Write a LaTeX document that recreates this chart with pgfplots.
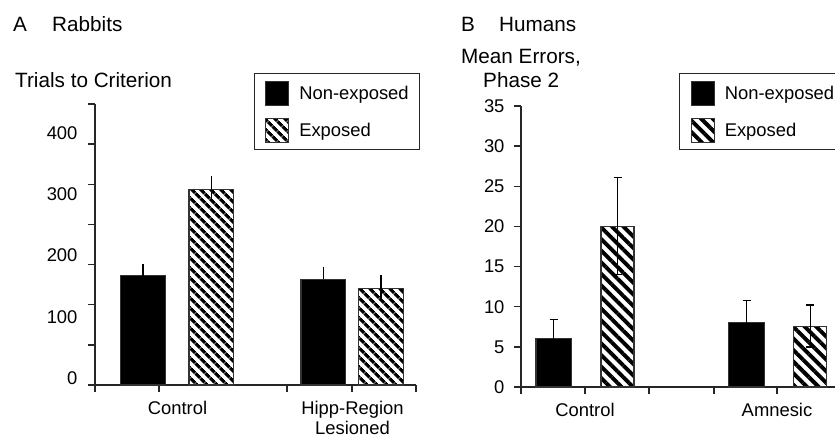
\documentclass[border=0pt]{standalone}
\usepackage{pgfplots}
\pgfplotsset{compat=1.18}
\usepackage{pgfplotstable}
\usepackage{fontspec}
\setmainfont{Liberation Sans}
\usetikzlibrary{patterns.meta}

\newcommand\tl{\fontsize{18.4}{20}\selectfont}
\newcommand\ttl{\fontsize{20.7}{24}\selectfont}

% Panel A: rabbits (x in px from y axis)
\pgfplotstableread{
x y ep em
48 178.4 19.6 0
228.3 172.5 20.7 0
}\rabNE
\pgfplotstableread{
x y ep em
116.3 319.5 21.7 14.7
286 157.3 21.8 14.7
}\rabE
% Panel B: humans
\pgfplotstableread{
x y ep em
32.7 6.0 2.4 2.4
225.5 8.0 2.8 2.8
}\humNE
\pgfplotstableread{
x y ep em
96.5 20.0 6.1 6.0
289.3 7.5 2.7 2.5
}\humE

\pgfplotsset{
  common/.style={
    scale only axis,
    axis lines=left,
    axis line style={-, line width=1.3pt, black!85},
    tick style={line width=1.3pt, black!85},
    tick align=outside,
    major tick length=7pt,
    clip=false,
    tick label style={font=\tl},
    /pgf/number format/assume math mode=true,
    legend style={draw=black!85, line width=1.2pt, fill=white,
      anchor=north west, inner xsep=11pt, inner ysep=7pt,
      row sep=12pt, font=\tl,
      nodes={inner sep=0pt}},
    legend cell align=left,
  },
  legimg/.style={legend image code/.code={
      \draw[##1, line width=1.1pt] (0pt,-12pt) rectangle (23pt,12pt);
      \path (33pt,0pt);}},
}

\begin{document}
\begin{tikzpicture}
\useasboundingbox (0pt,0pt) rectangle (835pt,-438pt);
\clip (0pt,0pt) rectangle (835pt,-438pt);

% titles
\node[anchor=base west, inner sep=0pt, font=\ttl] at (13pt,-32pt) {A};
\node[anchor=base west, inner sep=0pt, font=\ttl] at (52pt,-32pt) {Rabbits};
\node[anchor=base west, inner sep=0pt, font=\ttl] at (15pt,-88pt) {Trials to Criterion};
\node[anchor=base west, inner sep=0pt, font=\ttl] at (461pt,-32pt) {B};
\node[anchor=base west, inner sep=0pt, font=\ttl] at (499pt,-32pt) {Humans};
\node[anchor=base west, inner sep=0pt, font=\ttl] at (461pt,-63.5pt) {Mean Errors,};
\node[anchor=base west, inner sep=0pt, font=\ttl] at (483pt,-88pt) {Phase 2};

\begin{axis}[common,
  at={(95pt,-385pt)}, anchor=south west,
  width=321pt, height=281pt,
  xmin=0, xmax=321, ymin=0, ymax=458.78,
  xtick={0,64,192,257,321}, xticklabels={},
  extra x ticks={82.5,257.5},
  extra x tick labels={Control,{Hipp-Region\\Lesioned}},
  extra x tick style={major tick length=0pt,
    xticklabel style={align=center, yshift=-13pt}},
  ytick={0,65.54,131.08,196.62,262.16,327.70,393.24,458.78},
  yticklabels={},
  extra y ticks={0,100,200,300,400},
  extra y tick labels={0,100,200,300,400},
  extra y tick style={major tick length=0pt,
    yticklabel style={yshift=7pt, xshift=-14pt}},
  legend style={at={(0.4938,1.1103)}},
]
\addplot[ybar, bar shift=0pt, bar width=44.5, fill=black, draw=black!80, line width=1.2pt, legimg,
  error bars/.cd, y dir=both, y explicit, error mark=none,
  error bar style={line width=1.3pt, black}]
  table[x=x, y=y, y error plus=ep, y error minus=em] {\rabNE};
\addlegendentry{Non-exposed}
\addplot[ybar, bar shift=0pt, bar width=44.5, fill=white, draw=black!80, line width=1.2pt,
  postaction={pattern={Lines[angle=-45, distance=7.4pt, line width=3.7pt]}}, legimg,
  error bars/.cd, y dir=both, y explicit, error mark=none,
  error bar style={line width=1.3pt, black}]
  table[x=x, y=y, y error plus=ep, y error minus=em] {\rabE};
\addlegendentry{Exposed}
\end{axis}

\begin{axis}[common,
  at={(521pt,-387pt)}, anchor=south west,
  width=320pt, height=281pt,
  xmin=0, xmax=320, ymin=0, ymax=35,
  xtick={0,64,128,193,256,320},
  xticklabels={,Control,,,Amnesic,},
  xticklabel style={yshift=-6pt},
  yticklabel style={xshift=-6pt},
  ytick={0,5,...,35},
  legend style={at={(0.4938,1.1174)}},
]
\addplot[ybar, bar shift=0pt, bar width=35.5, fill=black, draw=black!80, line width=1.2pt, legimg,
  error bars/.cd, y dir=both, y explicit, error mark=|,
  error bar style={line width=1.3pt, black},
  error mark options={line width=1.3pt, black, mark size=4pt}]
  table[x=x, y=y, y error plus=ep, y error minus=em] {\humNE};
\addlegendentry{Non-exposed}
\addplot[ybar, bar shift=0pt, bar width=33, fill=white, draw=black!80, line width=1.2pt,
  postaction={pattern={Lines[angle=-45, distance=8.2pt, line width=3.9pt]}}, legimg,
  error bars/.cd, y dir=both, y explicit, error mark=|,
  error bar style={line width=1.3pt, black},
  error mark options={line width=1.3pt, black, mark size=4pt}]
  table[x=x, y=y, y error plus=ep, y error minus=em] {\humE};
\addlegendentry{Exposed}
\end{axis}
\end{tikzpicture}
\end{document}
